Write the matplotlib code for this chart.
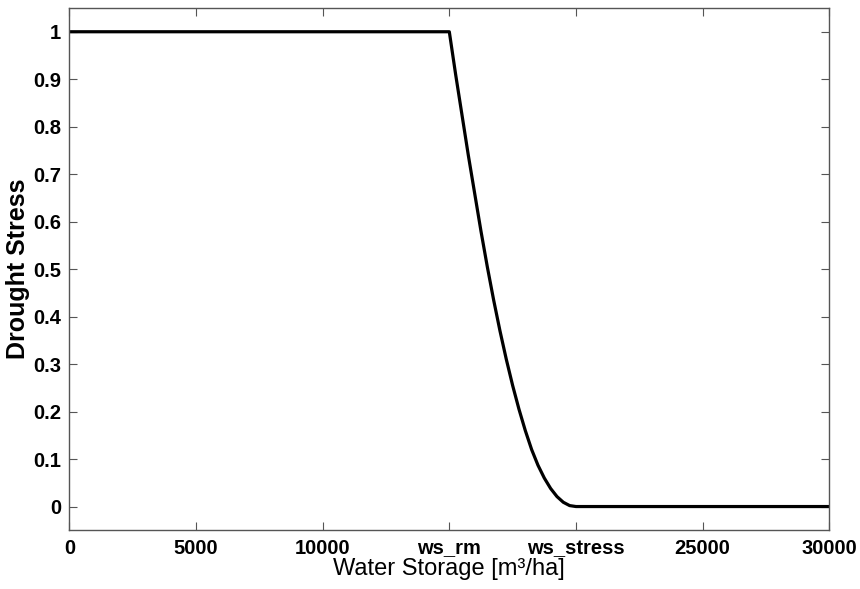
import matplotlib
matplotlib.use("Agg")
import matplotlib.pyplot as plt

plt.rcParams['font.family'] = ['Liberation Sans', 'DejaVu Sans']

# Data
storage = [0, 15000, 15250, 15500, 15750, 16000, 16250, 16500, 16750, 17000,
           17250, 17500, 17750, 18000, 18250, 18500, 18750, 19000, 19250,
           19500, 19750, 20000, 30000]
stress = [1.0, 1.0, 0.91, 0.825, 0.74, 0.66, 0.58, 0.505, 0.435, 0.37,
          0.31, 0.255, 0.205, 0.16, 0.12, 0.087, 0.06, 0.038, 0.021,
          0.009, 0.002, 0.0, 0.0]

x_ticks = [0, 5000, 10000, 15000, 20000, 25000, 30000]
x_tick_labels = ['0', '5000', '10000', 'ws_rm', 'ws_stress', '25000', '30000']
y_ticks = [0, 0.1, 0.2, 0.3, 0.4, 0.5, 0.6, 0.7, 0.8, 0.9, 1.0]
y_tick_labels = ['0', '0.1', '0.2', '0.3', '0.4', '0.5', '0.6', '0.7', '0.8', '0.9', '1']

fig = plt.figure(figsize=(8.6, 5.89), dpi=100)
ax = fig.add_axes([0.0806, 0.0997, 0.8837, 0.8867])
ax.plot(storage, stress, color='black', linewidth=2.3, solid_joinstyle='round')
ax.set_xlim(0, 30000)
ax.set_ylim(-0.05, 1.05)
ax.set_xticks(x_ticks)
ax.set_xticklabels(x_tick_labels, fontsize=14.5, fontweight='bold')
ax.set_yticks(y_ticks)
ax.set_yticklabels(y_tick_labels, fontsize=14.5, fontweight='bold')
ax.tick_params(direction='in', length=6, width=0.8, color='#555555', top=True, right=True, pad=6)
for s in ax.spines.values():
    s.set_color('#555555')
    s.set_linewidth(1.0)
ax.set_xlabel('Water Storage [m³/ha]', fontsize=17, labelpad=0)
ax.set_ylabel('Drought Stress', fontsize=18, fontweight='bold', labelpad=2)
fig.savefig('out.png', dpi=100)
